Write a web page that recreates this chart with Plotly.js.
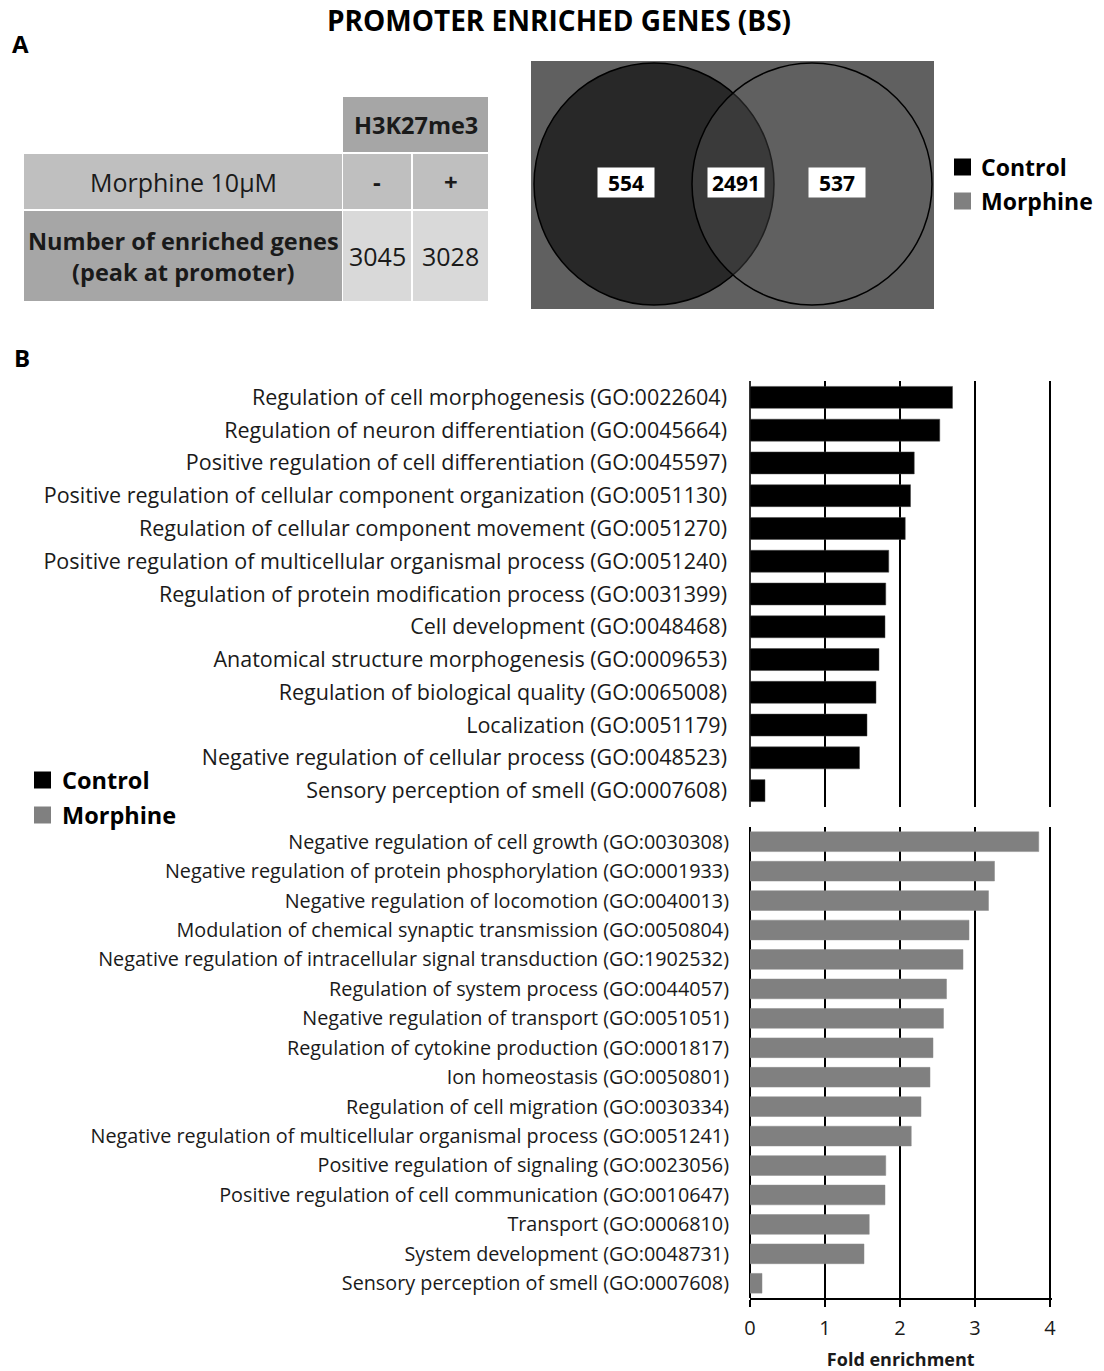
<!DOCTYPE html>
<html>
<head>
<meta charset="utf-8">
<script src="https://cdn.plot.ly/plotly-3.0.1.min.js"></script>
<style>html,body{margin:0;padding:0;background:#fff;}#chart{width:1104px;height:1371px;}</style>
</head>
<body>
<div id="chart"></div>
<script>
// ---------- DATA ----------
const chartTitle = 'PROMOTER ENRICHED GENES (BS)';
const tableHeader = 'H3K27me3';
const tableRowLabels = ['Morphine 10\u03bcM', 'Number of enriched genes<br>(peak at promoter)'];
const tableConditions = ['-', '+'];
const tableEnrichedCounts = [3045, 3028];

const seriesNames = ['Control', 'Morphine'];
const vennRegions = ['Control only', 'Control and Morphine', 'Morphine only'];
const vennCounts = [554, 2491, 537];

const controlTerms = [
  'Regulation of cell morphogenesis (GO:0022604)',
  'Regulation of neuron differentiation (GO:0045664)',
  'Positive regulation of cell differentiation (GO:0045597)',
  'Positive regulation of cellular component organization (GO:0051130)',
  'Regulation of cellular component movement (GO:0051270)',
  'Positive regulation of multicellular organismal process (GO:0051240)',
  'Regulation of protein modification process (GO:0031399)',
  'Cell development (GO:0048468)',
  'Anatomical structure morphogenesis (GO:0009653)',
  'Regulation of biological quality (GO:0065008)',
  'Localization (GO:0051179)',
  'Negative regulation of cellular process (GO:0048523)',
  'Sensory perception of smell (GO:0007608)'
];
const controlFold = [2.70, 2.53, 2.19, 2.14, 2.07, 1.85, 1.81, 1.80, 1.72, 1.68, 1.56, 1.46, 0.20];

const morphineTerms = [
  'Negative regulation of cell growth (GO:0030308)',
  'Negative regulation of protein phosphorylation (GO:0001933)',
  'Negative regulation of locomotion (GO:0040013)',
  'Modulation of chemical synaptic transmission (GO:0050804)',
  'Negative regulation of intracellular signal transduction (GO:1902532)',
  'Regulation of system process (GO:0044057)',
  'Negative regulation of transport (GO:0051051)',
  'Regulation of cytokine production (GO:0001817)',
  'Ion homeostasis (GO:0050801)',
  'Regulation of cell migration (GO:0030334)',
  'Negative regulation of multicellular organismal process (GO:0051241)',
  'Positive regulation of signaling (GO:0023056)',
  'Positive regulation of cell communication (GO:0010647)',
  'Transport (GO:0006810)',
  'System development (GO:0048731)',
  'Sensory perception of smell (GO:0007608)'
];
const morphineFold = [3.85, 3.26, 3.18, 2.92, 2.84, 2.62, 2.58, 2.44, 2.40, 2.28, 2.15, 1.81, 1.80, 1.59, 1.52, 0.16];

const xTickValues = [0, 1, 2, 3, 4];
const xAxisTitle = 'Fold enrichment';

// ---------- LAYOUT HELPERS ----------
const W = 1104, H = 1371;
const fx = p => p / W;
const fy = p => 1 - p / H;
const FONT = 'Open Sans, Noto Sans, sans-serif';
const TXT = '#1a1a1a';
const colControl = '#000000';
const colMorphine = '#808080';

// ---------- TRACES ----------
const traces = [
  {
    type: 'bar', orientation: 'h', name: seriesNames[0],
    y: controlTerms, x: controlFold, xaxis: 'x', yaxis: 'y',
    marker: {color: colControl, line: {color: '#444', width: 0.5}},
    width: 0.67, showlegend: false, hoverinfo: 'x+y'
  },
  {
    type: 'bar', orientation: 'h', name: seriesNames[1],
    y: morphineTerms, x: morphineFold, xaxis: 'x2', yaxis: 'y2',
    marker: {color: colMorphine, line: {color: '#8a8a8a', width: 0.5}},
    width: 0.67, showlegend: false, hoverinfo: 'x+y'
  }
];

// ---------- SHAPES & ANNOTATIONS ----------
const shapes = [];
const annotations = [];

// Table (axis x4/y4 in pixel-like units)
const tCols = [[24, 342], [343, 411], [413, 488]];
const tRows = [[97, 152], [154, 209], [211, 301]];
function cell(c0, c1, r0, r1, color) {
  shapes.push({type: 'rect', xref: 'x4', yref: 'y4', x0: c0, x1: c1, y0: r0, y1: r1,
    fillcolor: color, line: {width: 0}, layer: 'below'});
}
cell(tCols[1][0], tCols[2][1], tRows[0][0], tRows[0][1], '#a6a6a6');
cell(tCols[0][0], tCols[0][1], tRows[1][0], tRows[1][1], '#bfbfbf');
cell(tCols[1][0], tCols[1][1], tRows[1][0], tRows[1][1], '#bfbfbf');
cell(tCols[2][0], tCols[2][1], tRows[1][0], tRows[1][1], '#bfbfbf');
cell(tCols[0][0], tCols[0][1], tRows[2][0], tRows[2][1], '#a6a6a6');
cell(tCols[1][0], tCols[1][1], tRows[2][0], tRows[2][1], '#d9d9d9');
cell(tCols[2][0], tCols[2][1], tRows[2][0], tRows[2][1], '#d9d9d9');
const mid = a => (a[0] + a[1]) / 2;
function tText(x, y, text, size, bold) {
  annotations.push({xref: 'x4', yref: 'y4', x: x, y: y, text: bold ? '<b>' + text + '</b>' : text,
    showarrow: false, xanchor: 'center', yanchor: 'middle',
    font: {family: FONT, size: size, color: TXT}});
}
tText((tCols[1][0] + tCols[2][1]) / 2, mid(tRows[0]), tableHeader, 23.5, true);
tText(mid(tCols[0]), mid(tRows[1]), tableRowLabels[0], 25, false);
tText(mid(tCols[0]), mid(tRows[2]), tableRowLabels[1], 23.5, true);
tableConditions.forEach((c, i) => tText(mid(tCols[i + 1]), mid(tRows[1]), c, 24, true));
tableEnrichedCounts.forEach((v, i) => tText(mid(tCols[i + 1]), mid(tRows[2]), String(v), 25, false));

// Venn (axis x3/y3, pixel-like units)
shapes.push({type: 'rect', xref: 'x3 domain', yref: 'y3 domain', x0: 0, x1: 1, y0: 0, y1: 1,
  fillcolor: '#606060', line: {width: 0}, layer: 'below'});
shapes.push({type: 'circle', xref: 'x3', yref: 'y3', x0: 3, x1: 243, y0: 2, y1: 244,
  fillcolor: '#282828', line: {color: '#000', width: 1.5}, layer: 'above'});
shapes.push({type: 'circle', xref: 'x3', yref: 'y3', x0: 161, x1: 401, y0: 2, y1: 244,
  fillcolor: 'rgba(96,96,96,0.32)', line: {color: '#000', width: 1.5}, layer: 'above'});
const vennX = [94.5, 205, 305.5];
vennCounts.forEach((v, i) => annotations.push({
  xref: 'x3', yref: 'y3', x: vennX[i], y: 121.5, text: '<b>' + v + '</b>',
  showarrow: false, xanchor: 'center', yanchor: 'middle', width: 56, height: 29,
  bgcolor: '#ffffff', borderpad: 0, font: {family: FONT, size: 21, color: '#000'}
}));

// Legends (drawn)
function legendItem(sx, sy, size, color, tx, label, fsize) {
  shapes.push({type: 'rect', xref: 'paper', yref: 'paper', x0: fx(sx), x1: fx(sx + size),
    y0: fy(sy - size / 2), y1: fy(sy + size / 2), fillcolor: color, line: {width: 0}});
  annotations.push({xref: 'paper', yref: 'paper', x: fx(tx), y: fy(sy), text: '<b>' + label + '</b>',
    showarrow: false, xanchor: 'left', yanchor: 'middle', font: {family: FONT, size: fsize, color: '#000'}});
}
legendItem(954, 167, 17, colControl, 979, seriesNames[0], 23);
legendItem(954, 201, 17, colMorphine, 979, seriesNames[1], 23);
legendItem(34, 780, 17, colControl, 60, seriesNames[0], 23.5);
legendItem(34, 815, 17, colMorphine, 60, seriesNames[1], 23.5);

// Panel letters
annotations.push({xref: 'paper', yref: 'paper', x: fx(10), y: fy(43), text: '<b>A</b>', showarrow: false,
  xanchor: 'left', yanchor: 'middle', font: {family: FONT, size: 24, color: '#000'}});
annotations.push({xref: 'paper', yref: 'paper', x: fx(12), y: fy(357), text: '<b>B</b>', showarrow: false,
  xanchor: 'left', yanchor: 'middle', font: {family: FONT, size: 24, color: '#000'}});

// ---------- AXES ----------
const xr = [0, 4.02];
const xDom = [fx(750), fx(750 + 75 * 4.02)];

const layout = {
  width: W, height: H,
  margin: {l: 0, r: 0, t: 0, b: 0},
  paper_bgcolor: '#fff', plot_bgcolor: 'rgba(0,0,0,0)',
  showlegend: false,
  title: {text: '<b>' + chartTitle + '</b>', x: fx(559), y: fy(21), xref: 'paper', yref: 'container',
    xanchor: 'center', yanchor: 'middle', font: {family: FONT, size: 28, color: '#000'}},
  xaxis: {domain: xDom, range: xr, anchor: 'y', showticklabels: false, ticks: '',
    showgrid: true, gridcolor: '#000', gridwidth: 2, tickvals: xTickValues,
    zeroline: true, zerolinecolor: '#333', zerolinewidth: 2, showline: false, fixedrange: true},
  yaxis: {domain: [fy(807), fy(381)], anchor: 'x', type: 'category', autorange: 'reversed',
    showgrid: false, zeroline: false, showline: false, ticks: '', automargin: false,
    tickfont: {family: FONT, size: 21.5, color: TXT}, ticklabelstandoff: 22},
  xaxis2: {domain: xDom, range: xr, anchor: 'y2', tickvals: xTickValues,
    showgrid: true, gridcolor: '#000', gridwidth: 2,
    zeroline: true, zerolinecolor: '#000', zerolinewidth: 2,
    showline: true, linecolor: '#000', linewidth: 2,
    ticks: 'outside', ticklen: 7, tickwidth: 2, tickcolor: '#000',
    tickfont: {family: FONT, size: 20, color: TXT}, automargin: false, ticklabelstandoff: 4,
    title: {text: '<b>' + xAxisTitle + '</b>', standoff: 14, font: {family: FONT, size: 18, color: TXT}}},
  yaxis2: {domain: [fy(1298), fy(827)], anchor: 'x2', type: 'category', autorange: 'reversed',
    showgrid: false, zeroline: false, showline: false, ticks: '', automargin: false,
    tickfont: {family: FONT, size: 19.8, color: TXT}, ticklabelstandoff: 20},
  xaxis3: {domain: [fx(531), fx(934)], range: [0, 403], anchor: 'y3', visible: false, fixedrange: true},
  yaxis3: {domain: [fy(309), fy(61)], range: [248, 0], anchor: 'x3', visible: false, fixedrange: true},
  xaxis4: {domain: [fx(24), fx(488)], range: [24, 488], anchor: 'y4', visible: false, fixedrange: true},
  yaxis4: {domain: [fy(301), fy(97)], range: [301, 97], anchor: 'x4', visible: false, fixedrange: true},
  shapes: shapes,
  annotations: annotations
};

Plotly.newPlot('chart', traces, layout, {displayModeBar: false, responsive: false});
</script>
</body>
</html>
